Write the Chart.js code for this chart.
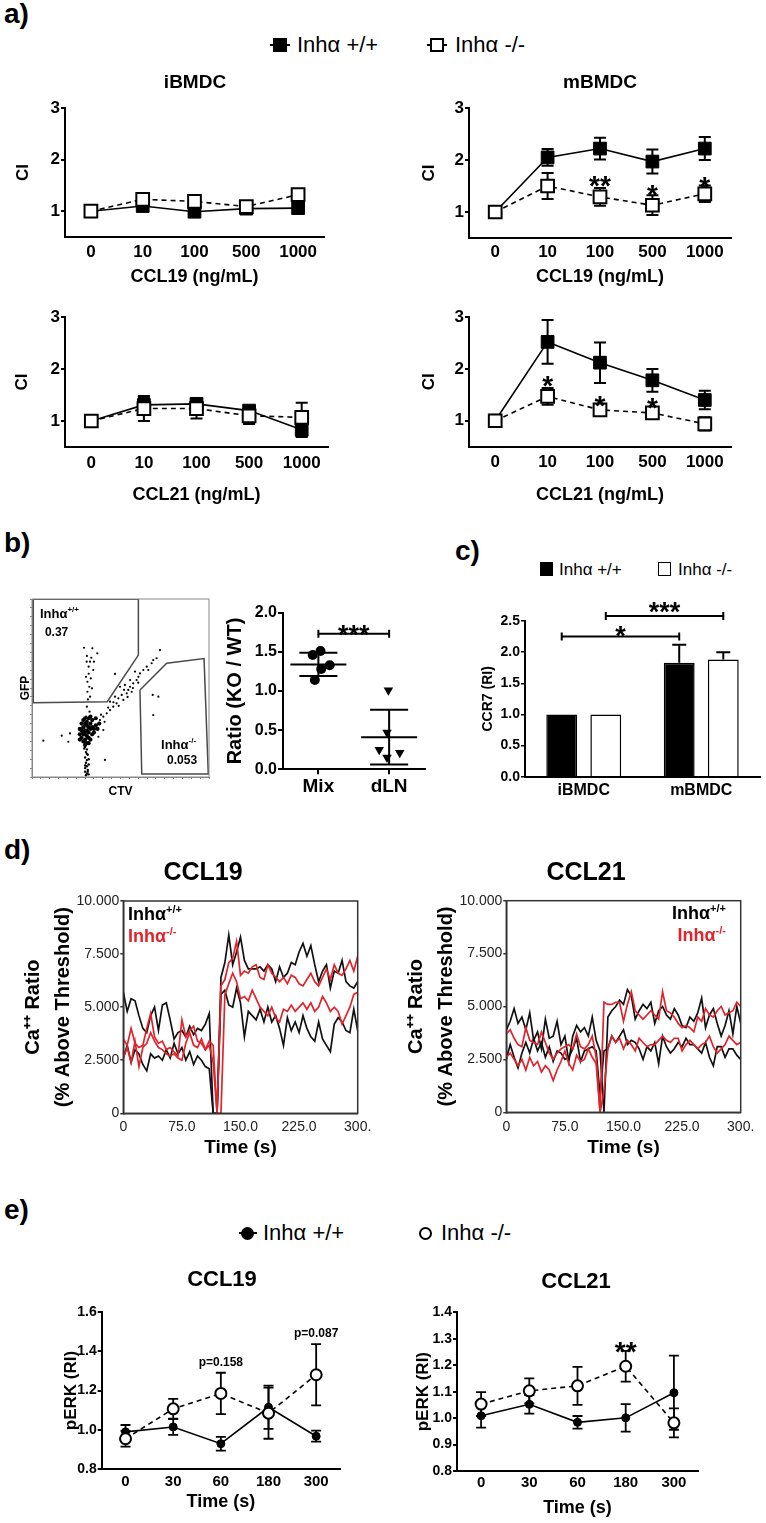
<!DOCTYPE html>
<html>
<head>
<meta charset="utf-8">
<title>Inhibin alpha figure</title>
<script src="https://cdn.jsdelivr.net/npm/chart.js@4.4.1/dist/chart.umd.min.js"></script>
<style>
  body { margin: 0; background: #fff; }
  #page { position: relative; width: 766px; height: 1523px; overflow: hidden; background: #fff;
          font-family: "Liberation Sans", Arial, sans-serif; color: #000; }
  #page canvas, #page div { position: absolute; }
  .pl { font-size: 28px; font-weight: bold; line-height: 1; }
  .lg { font-size: 22px; line-height: 1; white-space: nowrap; }
</style>
</head>
<body>
<div id="page">
  <div class="pl" style="left:4px;top:0px">a)</div>
  <div style="left:270px;top:44px;width:20px;height:2px;background:#000"></div>
  <div style="left:273px;top:38px;width:14px;height:14px;background:#000"></div>
  <div class="lg" style="left:297px;top:34px">Inhα +/+</div>
  <div style="left:427px;top:44px;width:20px;height:2px;background:#000"></div>
  <div style="left:430px;top:38px;width:14px;height:14px;background:#fff;border:2px solid #000;box-sizing:border-box"></div>
  <div class="lg" style="left:455px;top:34px">Inhα -/-</div>

  <canvas id="cA1" width="383" height="225" style="left:0px;top:70px"></canvas>
  <canvas id="cA2" width="383" height="225" style="left:383px;top:70px"></canvas>
  <canvas id="cA3" width="383" height="210" style="left:0px;top:300px"></canvas>
  <canvas id="cA4" width="383" height="210" style="left:383px;top:300px"></canvas>

  <div class="pl" style="left:4px;top:529px">b)</div>
  <canvas id="cFlow" width="215" height="215" style="left:0px;top:590px"></canvas>
  <canvas id="cDot" width="215" height="215" style="left:215px;top:590px"></canvas>

  <div class="pl" style="left:455px;top:537px">c)</div>
  <div style="left:540px;top:562px;width:13px;height:14px;background:#000"></div>
  <div class="lg" style="left:559px;top:561px;font-size:17px">Inhα +/+</div>
  <div style="left:658px;top:562px;width:13px;height:14px;border:1.5px solid #000;box-sizing:border-box;background:#fff"></div>
  <div class="lg" style="left:678px;top:561px;font-size:17px">Inhα -/-</div>
  <canvas id="cBar" width="336" height="215" style="left:430px;top:590px"></canvas>

  <div class="pl" style="left:4px;top:836px">d)</div>
  <canvas id="cD1" width="383" height="300" style="left:0px;top:860px"></canvas>
  <canvas id="cD2" width="383" height="300" style="left:383px;top:860px"></canvas>

  <div class="pl" style="left:4px;top:1196px">e)</div>
  <div style="left:239px;top:1232px;width:18px;height:2px;background:#000"></div>
  <div style="left:241px;top:1227px;width:13px;height:13px;border-radius:50%;background:#000"></div>
  <div class="lg" style="left:263px;top:1222px">Inhα +/+</div>
  <div style="left:419px;top:1227px;width:13px;height:13px;border-radius:50%;border:2.5px solid #000;box-sizing:border-box;background:#fff"></div>
  <div class="lg" style="left:441px;top:1222px">Inhα -/-</div>
  <canvas id="cE1" width="383" height="263" style="left:0px;top:1260px"></canvas>
  <canvas id="cE2" width="383" height="263" style="left:383px;top:1260px"></canvas>
</div>
<script>
// ---------- a) chemotaxis index ----------
const concLabels = ['0', '10', '100', '500', '1000'];
const ciTicks = [1, 2, 3];

const ib19Wt = [1.00, 1.10, 0.99, 1.05, 1.06];
const ib19WtErr = [0, 0.03, 0.04, 0.05, 0.05];
const ib19Ko = [1.00, 1.23, 1.19, 1.09, 1.32];
const ib19KoErr = [0, 0.04, 0.04, 0.08, 0.05];

const mb19Wt = [1.00, 2.05, 2.22, 1.97, 2.22];
const mb19WtErr = [0, 0.16, 0.21, 0.23, 0.22];
const mb19Ko = [1.00, 1.50, 1.29, 1.13, 1.35];
const mb19KoErr = [0, 0.25, 0.17, 0.19, 0.16];

const ib21Wt = [1.00, 1.31, 1.33, 1.20, 0.83];
const ib21WtErr = [0, 0.15, 0.06, 0.08, 0.14];
const ib21Ko = [1.00, 1.24, 1.24, 1.10, 1.07];
const ib21KoErr = [0, 0.24, 0.19, 0.16, 0.28];

const mb21Wt = [1.00, 2.52, 2.12, 1.78, 1.40];
const mb21WtErr = [0, 0.42, 0.39, 0.22, 0.18];
const mb21Ko = [1.00, 1.47, 1.21, 1.15, 0.94];
const mb21KoErr = [0, 0.16, 0.04, 0.06, 0.13];

const mb19Stars = [[2, 1.63, '**'], [3, 1.46, '*'], [4, 1.62, '*']];
const mb21Stars = [[1, 1.81, '*'], [2, 1.42, '*'], [3, 1.39, '*']];

// ---------- b) flow plot (CTV / GFP, plot units 0-100) ----------
const gate1 = [[0.7, 99.8], [60.1, 99.8], [60.1, 68.5], [42.5, 42.3], [0.7, 41.7], [0.7, 99.8]];
const gate2 = [[61.0, 48.9], [76.1, 63.9], [97.2, 66.5], [99.6, 1.7], [62.0, 1.7], [61.0, 48.9]];
const flowCore = [[28,22],[29,24],[30,26],[31,23],[32,25],[29,28],[31,29],[33,27],[30,21],[28,26],
  [32,22],[34,24],[30,30],[33,30],[29,20],[31,19],[27,24],[35,27],[36,29],[34,32],[32,33],[30,33],
  [28,30],[27,27],[33,21],[35,25],[31,26],[29,25],[32,28],[30,24],[34,28],[31,31],[36,33],[38,30],
  [37,27],[33,34],[29,32],[27,21],[30,18],[32,19]];
const flowStem = [[30,17],[31,15.5],[30.5,14],[31.5,12.5],[30,11],[31,9.5],[30.5,8],[32,7],[31,6],
  [30,5],[31.5,4],[30,3],[31,2],[32,1.5],[30.5,1],[29.5,16],[32,10],[31,13],[30,6.5],[31.5,3]];
const flowUpper = [[29.4,72.6],[34.1,72.3],[36.9,69.5],[30.9,64.8],[32.8,64.8],[35.0,64.8],[32.0,62.0],
  [34.6,60.1],[30.5,56.3],[33.2,55.4],[31.3,53.5],[32.4,50.7],[33.9,49.8],[31.3,47.9],[32.8,45.1],
  [31.6,43.6],[31,39.5],[32.5,36.7],[30.5,34],[32,58],[31,68],[33.5,67]];
const flowDiag = [[38.4,32.0],[40.3,33.9],[42.2,35.8],[44.1,37.6],[45.9,39.5],[47.8,41.4],[48.8,44.2],
  [50.7,46.1],[51.6,43.3],[53.5,47.0],[54.4,48.9],[55.4,50.7],[56.3,47.9],[57.2,52.6],[59.1,54.5],
  [60.1,56.3],[61.0,58.2],[62.9,60.1],[64.8,62.0],[65.7,60.1],[67.6,63.9],[68.5,65.7],[70.4,66.7],
  [72.3,71.3],[49.7,50.7],[52.5,51.7],[46.9,45.1],[44.1,42.3],[55.4,54.5],[58.2,59.2],[36.6,29.2],
  [40.3,26.4],[37.5,22.6],[39,35],[41,31],[43,39],[46,42],[49,40],[52,49],[54,45],[57,50],[60,53]];
const flowStray = [[6.4,20.4],[16.8,23.2],[21.5,24.5],[20.5,19.8],[41.2,9.6],[46.9,57.9],[68.2,46.1],
  [71.4,45.1],[68.5,34.8]];

// ---------- b) ratio dot plot ----------
const dotGroups = ['Mix', 'dLN'];
const ratioTicks = [0, 0.5, 1.0, 1.5, 2.0];
const mixRatio = [1.46, 1.51, 1.28, 1.33, 1.14];
const mixJitter = [0.42, 0.53, 0.54, 0.66, 0.45];
const dlnRatio = [1.01, 0.47, 0.21, 0.15, 0.25];
const dlnJitter = [1.49, 1.47, 1.65, 1.47, 1.36];
const mixMeanSd = [1.34, 0.15];
const dlnMeanSd = [0.41, 0.35];

// ---------- c) CCR7 ----------
const cellLabels = ['iBMDC', 'mBMDC'];
const ccr7Ticks = [0, 0.5, 1.0, 1.5, 2.0, 2.5];
const ccr7Wt = [1.00, 1.83];
const ccr7WtErr = [0, 0.29];
const ccr7Ko = [1.00, 1.88];
const ccr7KoErr = [0, 0.12];

// ---------- d) calcium flux ----------
const caTime = [0,5,10,15,20,25,30,35,40,45,50,55,60,65,70,75,80,85,90,95,100,105,110,115,120,125,130,
  135,140,145,150,155,160,165,170,175,180,185,190,195,200,205,210,215,220,225,230,235,240,245,250,255,
  260,265,270,275,280,285,290,295,300];
const caXTicks = [0, 75, 150, 225, 300];
const caXLabels = ['0', '75.0', '150.0', '225.0', '300.'];
const caYTicks = [0, 2.5, 5, 7.5, 10];
const caYLabels = ['0', '2.500', '5.000', '7.500', '10.000'];

const ca19Wt1 = [5.7,4.8,5.4,5.3,4.6,4.0,3.8,4.6,5.0,3.9, 5.1,5.2,4.4,3.5,3.8,3.9,3.6,4.1,3.7,4.0,
  3.9,4.2,4.7,0,0,6.4,7.1,8.4,7.0,7.6, 8.3,7.2,6.8,6.8,6.8,6.9,6.7,7.0,6.8,6.2,
  6.9,6.4,6.6,7.1,7.0,7.6,8.0,7.4,7.9,7.0, 6.2,6.7,7.0,5.9,6.7,6.6,7.2,6.2,6.0,5.9, 6.2];
const ca19Wt2 = [2.6,3.2,2.4,3.0,2.8,2.3,2.0,2.8,2.6,2.7, 2.5,3.0,2.6,3.3,2.8,3.1,2.5,2.9,2.3,2.7,
  2.5,2.2,2.1,0,0,5.6,5.8,5.1,5.0,5.9, 5.2,3.6,4.8,4.6,4.4,4.9,4.3,5.0,4.3,4.6,
  4.0,3.2,4.5,3.9,4.3,3.8,4.6,4.0,3.6,3.4, 4.3,3.5,3.2,2.9,4.2,4.5,4.3,3.9,3.8,4.9, 3.9];
const ca19Ko1 = [3.5,3.2,4.0,3.3,3.1,3.2,4.0,4.7,3.6,3.3, 3.4,3.0,3.1,2.9,2.7,4.4,3.6,3.9,4.1,3.4,
  3.3,3.0,3.4,3.2,0,6.0,6.3,7.1,7.3,8.1, 6.5,6.7,6.6,6.9,7.0,6.4,6.3,7.0,6.6,6.4,
  6.2,6.4,6.1,6.5,6.4,6.1,6.0,6.3,6.6,6.2, 6.0,6.4,6.8,6.3,7.0,6.6,6.5,6.8,7.2,6.7, 7.4];
const ca19Ko2 = [2.6,3.1,2.4,3.4,2.2,3.1,3.3,3.8,3.4,3.1, 3.0,2.8,2.7,2.8,2.6,2.5,3.3,3.8,3.2,3.1,
  3.5,3.0,3.2,2.4,0,0,5.6,6.1,6.6,6.2, 5.4,5.5,5.3,5.8,5.4,5.0,4.8,4.6,5.0,4.5,
  4.3,4.9,4.8,5.1,4.8,5.0,5.2,4.9,5.2,4.8, 5.0,5.5,5.2,4.8,5.0,4.8,4.2,4.6,5.0,5.6, 5.7];

const ca21Wt1 = [3.9,4.3,4.9,4.2,4.5,3.9,4.7,3.4,3.8,3.0, 4.4,3.5,3.6,4.3,3.2,3.6,2.4,3.6,4.1,3.8,
  4.0,3.6,4.5,3.4,2.9,0,4.5,4.8,5.0,5.3, 5.1,5.8,5.5,4.4,4.8,5.1,4.9,5.2,4.2,4.8,
  5.0,4.6,4.4,4.9,4.6,4.1,4.0,4.5,4.3,4.7, 5.4,4.0,4.6,4.9,4.2,3.6,4.1,4.8,3.7,5.0, 4.2];
const ca21Wt2 = [2.5,3.2,2.6,2.1,2.8,3.3,2.8,3.5,2.9,3.3, 2.6,3.1,2.4,2.9,2.8,2.5,2.6,3.0,3.5,2.4,
  2.9,3.0,3.1,2.9,0.8,2.9,3.0,3.6,3.3,3.6, 3.9,3.2,3.4,3.3,3.0,2.5,3.1,2.9,3.3,2.3,
  3.6,3.1,2.8,3.0,3.3,3.1,3.5,3.2,3.2,3.0, 2.8,3.3,2.6,2.2,3.1,3.1,2.6,3.0,3.0,2.7, 2.5];
const ca21Ko1 = [3.7,3.9,3.5,3.2,3.1,4.0,3.4,3.3,3.2,3.8, 3.3,2.8,2.5,2.8,3.0,3.1,3.2,3.0,3.7,3.1,
  3.0,3.2,3.6,2.6,0,5.2,5.1,5.1,5.2,5.2, 4.3,5.1,5.7,4.8,4.6,4.4,4.6,4.8,4.6,4.4,
  5.7,4.8,4.7,4.5,4.2,4.0,4.1,4.0,3.8,4.5, 4.3,4.9,4.6,4.5,4.8,5.0,4.6,4.7,4.8,5.2, 5.0];
const ca21Ko2 = [2.6,2.8,2.5,2.2,2.5,2.0,2.6,2.2,2.4,1.9, 2.2,2.0,1.5,2.0,2.4,2.9,2.3,2.0,2.7,2.4,
  2.5,3.0,2.6,2.3,0,1.0,3.0,3.6,3.3,3.5, 3.0,3.4,3.2,2.9,3.5,3.3,3.1,3.2,3.2,3.4,
  3.6,3.4,3.3,3.5,3.5,2.9,3.2,3.4,3.2,3.0, 3.2,3.3,3.6,3.1,2.8,3.0,3.2,3.6,3.4,3.2, 3.3];

// ---------- e) pERK ----------
const timeLabels = ['0', '30', '60', '180', '300'];
const perk19Ticks = [0.8, 1.0, 1.2, 1.4, 1.6];
const perk21Ticks = [0.8, 0.9, 1.0, 1.1, 1.2, 1.3, 1.4];
const perk19Wt = [0.99, 1.015, 0.93, 1.115, 0.968];
const perk19WtErr = [0.035, 0.04, 0.035, 0.11, 0.028];
const perk19Ko = [0.955, 1.107, 1.185, 1.085, 1.28];
const perk19KoErr = [0.04, 0.05, 0.105, 0.13, 0.155];
const perk21Wt = [1.009, 1.052, 0.984, 1.001, 1.096];
const perk21WtErr = [0.045, 0.035, 0.024, 0.052, 0.14];
const perk21Ko = [1.053, 1.103, 1.122, 1.196, 0.982];
const perk21KoErr = [0.045, 0.047, 0.072, 0.058, 0.055];

// ---------- helpers ----------
const FONT = '"Liberation Sans", Arial, sans-serif';
Chart.defaults.font.family = FONT;
Chart.defaults.color = '#000';
Chart.defaults.animation = false;
Chart.defaults.plugins.legend.display = false;
Chart.defaults.plugins.tooltip.enabled = false;

const RED = '#e0242b';
const NO_GRID = { display: false, drawTicks: false };
function fnt(size, bold) { return (bold ? 'bold ' : '') + size + 'px ' + FONT; }
function fixW(w) { return s => { s.width = w; }; }
function fixH(h) { return s => { s.height = h; }; }
function setTicks(vals) { return s => { s.ticks = vals.map(v => ({ value: v })); }; }
function xy(xs, ys) { return xs.map((x, i) => ({ x: x, y: ys[i] })); }
function pairs(list) { return list.map(p => ({ x: p[0], y: p[1] })); }

function drawRich(ctx, parts, x, y, size, color, align) {
  ctx.save();
  ctx.fillStyle = color;
  ctx.textAlign = 'left';
  ctx.textBaseline = 'alphabetic';
  const f = sup => fnt(sup ? Math.round(size * 0.62) : size, true);
  let w = 0;
  parts.forEach(p => { ctx.font = f(p[1]); w += ctx.measureText(p[0]).width; });
  let cx = align === 'right' ? x - w : (align === 'center' ? x - w / 2 : x);
  const base = y + size * 0.36;
  parts.forEach(p => {
    ctx.font = f(p[1]);
    ctx.fillText(p[0], cx, p[1] ? base - size * 0.42 : base);
    cx += ctx.measureText(p[0]).width;
  });
  ctx.restore();
}

// error bars, drawn under the markers
function drawErrors(chart) {
  const ctx = chart.ctx, ys = chart.scales.y;
  chart.data.datasets.forEach((ds, di) => {
    if (!ds.errors) return;
    const meta = chart.getDatasetMeta(di);
    const cap = ds.capW || 6;
    ctx.save();
    ctx.strokeStyle = '#000';
    ctx.lineWidth = ds.errWidth || 2;
    meta.data.forEach((el, i) => {
      const e = ds.errors[i];
      if (!e) return;
      const v = ds.data[i];
      const yt = ys.getPixelForValue(v + e);
      const yb = ds.errUp ? ys.getPixelForValue(v) : ys.getPixelForValue(v - e);
      ctx.beginPath();
      ctx.moveTo(el.x, yt); ctx.lineTo(el.x, yb);
      ctx.moveTo(el.x - cap, yt); ctx.lineTo(el.x + cap, yt);
      if (!ds.errUp) { ctx.moveTo(el.x - cap, yb); ctx.lineTo(el.x + cap, yb); }
      ctx.stroke();
    });
    ctx.restore();
  });
}

function drawItems(chart, items) {
  const ctx = chart.ctx, ca = chart.chartArea;
  const X = v => chart.scales.x.getPixelForValue(v);
  const Y = v => chart.scales.y.getPixelForValue(v);
  items.forEach(it => {
    ctx.save();
    ctx.fillStyle = ctx.strokeStyle = it.color || '#000';
    ctx.lineWidth = it.w || 2;
    if (it.k === 'frame') {
      ctx.strokeRect(ca.left, ca.top, ca.right - ca.left, ca.bottom - ca.top);
    } else if (it.k === 'text') {
      ctx.font = fnt(it.size, it.bold !== false);
      ctx.textAlign = it.align || 'center';
      ctx.textBaseline = 'middle';
      ctx.fillText(it.s, it.data ? X(it.x) : it.x, it.data ? Y(it.y) : it.y);
    } else if (it.k === 'star') {
      ctx.font = fnt(it.size, true);
      ctx.textAlign = 'center';
      ctx.textBaseline = 'alphabetic';
      ctx.fillText(it.s, X(it.x), Y(it.y) + it.size * 0.58);
    } else if (it.k === 'rich') {
      drawRich(ctx, it.parts, it.data ? X(it.x) : it.x, it.data ? Y(it.y) : it.y,
               it.size, it.color || '#000', it.align);
    } else if (it.k === 'br') {
      const x1 = X(it.x1), x2 = X(it.x2), y = Y(it.y), c = it.cap || 4;
      ctx.beginPath();
      ctx.moveTo(x1, y); ctx.lineTo(x2, y);
      ctx.moveTo(x1, y - c); ctx.lineTo(x1, y + c);
      ctx.moveTo(x2, y - c); ctx.lineTo(x2, y + c);
      ctx.stroke();
    } else if (it.k === 'brbar') {
      const x1 = chart.getDatasetMeta(it.a[0]).data[it.a[1]].x;
      const x2 = chart.getDatasetMeta(it.b[0]).data[it.b[1]].x;
      const y = Y(it.y), c = 4;
      ctx.beginPath();
      ctx.moveTo(x1, y); ctx.lineTo(x2, y);
      ctx.moveTo(x1, y - c); ctx.lineTo(x1, y + c);
      ctx.moveTo(x2, y - c); ctx.lineTo(x2, y + c);
      ctx.stroke();
      ctx.font = fnt(it.size, true);
      ctx.textAlign = 'center';
      ctx.textBaseline = 'alphabetic';
      ctx.fillText(it.s, (x1 + x2) / 2, Y(it.sy) + it.size * 0.58);
    } else if (it.k === 'msd') {
      const x = X(it.x), m = Y(it.ms[0]), t = Y(it.ms[0] + it.ms[1]), b = Y(it.ms[0] - it.ms[1]);
      ctx.beginPath();
      ctx.moveTo(x - it.hw, m); ctx.lineTo(x + it.hw, m);
      ctx.moveTo(x, t); ctx.lineTo(x, b);
      ctx.moveTo(x - it.cw, t); ctx.lineTo(x + it.cw, t);
      ctx.moveTo(x - it.cw, b); ctx.lineTo(x + it.cw, b);
      ctx.stroke();
    }
    ctx.restore();
  });
}

function notes(items) {
  return { id: 'notes', beforeDatasetsDraw: drawErrors, afterDraw: c => drawItems(c, items) };
}

// ---------- a) ----------
function ciChart(id, g, wt, wtErr, ko, koErr, xTitle, title, stars) {
  const items = [];
  if (title) items.push({ k: 'text', x: g.tx, y: 12.5, s: title, size: 19 });
  (stars || []).forEach(s => items.push({ k: 'star', x: s[0], y: s[1], s: s[2], size: 28 }));
  return new Chart(document.getElementById(id), {
    type: 'line',
    data: {
      labels: concLabels,
      datasets: [
        { data: ko, errors: koErr, order: 0, borderColor: '#000', borderWidth: 1.6, borderDash: [5, 4],
          pointStyle: 'rect', pointRadius: 9, pointBackgroundColor: '#fff', pointBorderColor: '#000',
          pointBorderWidth: 2, tension: 0 },
        { data: wt, errors: wtErr, order: 1, borderColor: '#000', borderWidth: 1.6,
          pointStyle: 'rect', pointRadius: 9, pointBackgroundColor: '#000', pointBorderColor: '#000',
          pointBorderWidth: 1, tension: 0 }
      ]
    },
    options: {
      responsive: false,
      layout: { padding: { left: 0, top: g.top, right: g.right, bottom: 0 } },
      scales: {
        x: { offset: true, grid: NO_GRID, border: { color: '#000', width: 2 },
             ticks: { font: { size: 17, weight: 'bold' }, padding: g.tp, color: '#000' },
             title: { display: true, text: xTitle, font: { size: 18, weight: 'bold' },
                      padding: { top: 0, bottom: g.xtp } },
             afterFit: fixH(g.xh) },
        y: { min: 0.5, max: 3, afterBuildTicks: setTicks(ciTicks),
             grid: { drawOnChartArea: false, tickLength: 4, color: '#000', lineWidth: 2 },
             border: { color: '#000', width: 2 },
             ticks: { font: { size: 17, weight: 'bold' }, padding: 1, color: '#000' },
             title: { display: true, text: 'CI', font: { size: 17, weight: 'bold' },
                      padding: { top: g.ytp, bottom: 0 } },
             afterFit: fixW(g.yw) }
      }
    },
    plugins: [notes(items)]
  });
}

ciChart('cA1', { top: 38, right: 59, yw: 65, ytp: 12.8, xh: 58, xtp: 7.2, tp: 4.8, tx: 195 },
        ib19Wt, ib19WtErr, ib19Ko, ib19KoErr, 'CCL19 (ng/mL)', 'iBMDC');
ciChart('cA2', { top: 38, right: 35, yw: 86, ytp: 36.5, xh: 57, xtp: 7.2, tp: 3.8, tx: 217 },
        mb19Wt, mb19WtErr, mb19Ko, mb19KoErr, 'CCL19 (ng/mL)', 'mBMDC', mb19Stars);
ciChart('cA3', { top: 17, right: 55, yw: 65, ytp: 12.3, xh: 63, xtp: 4.2, tp: 5.8 },
        ib21Wt, ib21WtErr, ib21Ko, ib21KoErr, 'CCL21 (ng/mL)');
ciChart('cA4', { top: 17, right: 35, yw: 86, ytp: 35.8, xh: 63.3, xtp: 4.2, tp: 5.8 },
        mb21Wt, mb21WtErr, mb21Ko, mb21KoErr, 'CCL21 (ng/mL)', null, mb21Stars);

// ---------- b) flow plot ----------
const gateStyle = { showLine: true, borderColor: '#4a4a4a', borderWidth: 1.5, pointRadius: 0, tension: 0 };
new Chart(document.getElementById('cFlow'), {
  type: 'scatter',
  data: {
    datasets: [
      Object.assign({ data: pairs(gate1) }, gateStyle),
      Object.assign({ data: pairs(gate2) }, gateStyle),
      { data: pairs(flowCore), pointRadius: 2.1, backgroundColor: '#000', borderWidth: 0 },
      { data: pairs(flowStem), pointRadius: 1.2, backgroundColor: '#000', borderWidth: 0 },
      { data: pairs(flowUpper), pointRadius: 1.1, backgroundColor: '#000', borderWidth: 0 },
      { data: pairs(flowDiag), pointRadius: 1.1, backgroundColor: '#000', borderWidth: 0 },
      { data: pairs(flowStray), pointRadius: 1.1, backgroundColor: '#000', borderWidth: 0 }
    ]
  },
  options: {
    responsive: false,
    layout: { padding: { left: 0, top: 9, right: 6, bottom: 0 } },
    scales: {
      x: { type: 'linear', min: 0, max: 100, ticks: { display: false, stepSize: 5 },
           grid: { drawOnChartArea: false, tickLength: 2, color: '#888' },
           border: { color: '#888', width: 1 },
           title: { display: true, text: 'CTV', font: { size: 12, weight: 'bold' }, padding: { top: 0, bottom: 6 } },
           afterFit: fixH(28) },
      y: { type: 'linear', min: 0, max: 100, ticks: { display: false, stepSize: 5 },
           grid: { drawOnChartArea: false, tickLength: 2, color: '#888' },
           border: { color: '#888', width: 1 },
           title: { display: true, text: 'GFP', font: { size: 12, weight: 'bold' }, padding: { top: 18, bottom: 0 } },
           afterFit: fixW(32) }
    }
  },
  plugins: [notes([
    { k: 'frame', color: '#888', w: 1 },
    { k: 'rich', data: true, x: 4.5, y: 92, parts: [['Inhα', 0], ['+/+', 1]], size: 13 },
    { k: 'text', data: true, x: 7.3, y: 81, s: '0.37', size: 12, align: 'left' },
    { k: 'rich', data: true, x: 72.9, y: 18.5, parts: [['Inhα', 0], ['-/-', 1]], size: 13 },
    { k: 'text', data: true, x: 76.3, y: 9, s: '0.053', size: 12, align: 'left' }
  ])]
});

// ---------- b) ratio dot plot ----------
new Chart(document.getElementById('cDot'), {
  type: 'scatter',
  data: {
    datasets: [
      { data: xy(mixJitter, mixRatio), pointStyle: 'circle', pointRadius: 5, backgroundColor: '#000', borderWidth: 0 },
      { data: xy(dlnJitter, dlnRatio), pointStyle: 'triangle', pointRotation: 180, pointRadius: 5.5,
        backgroundColor: '#000', borderWidth: 0 }
    ]
  },
  options: {
    responsive: false,
    layout: { padding: { left: 0, top: 22.7, right: 4, bottom: 0 } },
    scales: {
      x: { type: 'linear', min: 0, max: 2, afterBuildTicks: setTicks([0.5, 1.5]),
           grid: { drawOnChartArea: false, tickLength: 5, color: '#000', lineWidth: 2 },
           border: { color: '#000', width: 2 },
           ticks: { font: { size: 19, weight: 'bold' }, padding: 1, callback: (v, i) => dotGroups[i] },
           afterFit: fixH(35.7) },
      y: { min: 0, max: 2, afterBuildTicks: setTicks(ratioTicks),
           grid: { drawOnChartArea: false, tickLength: 5, color: '#000', lineWidth: 2 },
           border: { color: '#000', width: 2 },
           ticks: { font: { size: 16, weight: 'bold' }, padding: 1, callback: v => v.toFixed(1) },
           title: { display: true, text: 'Ratio (KO / WT)', font: { size: 20, weight: 'bold' },
                    padding: { top: 8, bottom: 0 } },
           afterFit: fixW(68) }
    }
  },
  plugins: [notes([
    { k: 'msd', x: 0.5, ms: mixMeanSd, hw: 28, cw: 19 },
    { k: 'msd', x: 1.5, ms: dlnMeanSd, hw: 28, cw: 19 },
    { k: 'br', x1: 0.5, x2: 1.5, y: 1.73, cap: 4 },
    { k: 'star', x: 1.0, y: 1.80, s: '***', size: 27 }
  ])]
});

// ---------- c) CCR7 bars ----------
new Chart(document.getElementById('cBar'), {
  type: 'bar',
  data: {
    labels: cellLabels,
    datasets: [
      { data: ccr7Wt, errors: ccr7WtErr, errUp: true, capW: 7, backgroundColor: '#000', borderColor: '#000',
        borderWidth: 1.5, categoryPercentage: 0.75, barPercentage: 0.7 },
      { data: ccr7Ko, errors: ccr7KoErr, errUp: true, capW: 7, backgroundColor: '#fff', borderColor: '#000',
        borderWidth: 1.5, categoryPercentage: 0.75, barPercentage: 0.7 }
    ]
  },
  options: {
    responsive: false,
    layout: { padding: { left: 0, top: 31, right: 6, bottom: 0 } },
    scales: {
      x: { grid: NO_GRID, border: { color: '#000', width: 2 },
           ticks: { font: { size: 16, weight: 'bold' }, padding: 4 },
           afterFit: fixH(28.3) },
      y: { min: 0, max: 2.5, afterBuildTicks: setTicks(ccr7Ticks),
           grid: { drawOnChartArea: false, tickLength: 4, color: '#000', lineWidth: 1.5 },
           border: { color: '#000', width: 2 },
           ticks: { font: { size: 14, weight: 'bold' }, padding: 1, callback: v => v.toFixed(1) },
           title: { display: true, text: 'CCR7 (RI)', font: { size: 14, weight: 'bold' },
                    padding: { top: 49.6, bottom: 0 } },
           afterFit: fixW(95) }
    }
  },
  plugins: [notes([
    { k: 'brbar', a: [0, 0], b: [0, 1], y: 2.25, s: '*', sy: 2.36, size: 27 },
    { k: 'brbar', a: [1, 0], b: [1, 1], y: 2.58, s: '***', sy: 2.75, size: 27 }
  ])]
});

// ---------- d) calcium ----------
function caChart(id, g, title, wt1, wt2, ko1, ko2) {
  const line = (d, c, o) => ({ data: xy(caTime, d), showLine: true, borderColor: c, borderWidth: 1.7,
                               pointRadius: 0, tension: 0, order: o });
  const legX = g.legRight ? 343 : 128;
  const al = g.legRight ? 'right' : 'left';
  return new Chart(document.getElementById(id), {
    type: 'scatter',
    data: { datasets: [line(ko1, RED, 0), line(ko2, RED, 0), line(wt1, '#111', 1), line(wt2, '#111', 1)] },
    options: {
      responsive: false,
      layout: { padding: { left: 0, top: g.top, right: 25.3, bottom: 0 } },
      scales: {
        x: { type: 'linear', min: 0, max: 300, afterBuildTicks: setTicks(caXTicks),
             grid: NO_GRID, border: { color: '#333', width: 1.5 },
             ticks: { font: { size: 14 }, color: '#222', padding: g.tp, callback: (v, i) => caXLabels[i] },
             title: { display: true, text: 'Time (s)', font: { size: 19, weight: 'bold' },
                      padding: { top: 0, bottom: 1 } },
             afterFit: fixH(g.xh) },
        y: { min: 0, max: 10, afterBuildTicks: setTicks(caYTicks),
             grid: { drawOnChartArea: false, tickLength: 3, color: '#333', lineWidth: 1.5 },
             border: { color: '#333', width: 1.5 },
             ticks: { font: { size: 14 }, color: '#222', padding: 1, callback: (v, i) => caYLabels[i] },
             title: { display: true, text: ['Ca⁺⁺ Ratio', '(% Above Threshold)'],
                      font: { size: 20, weight: 'bold', lineHeight: 1.5 }, padding: { top: 18, bottom: 0 } },
             afterFit: fixW(123.3) }
      }
    },
    plugins: [notes([
      { k: 'frame', color: '#333', w: 1.5 },
      { k: 'text', x: 203, y: 13, s: title, size: 25 },
      { k: 'rich', x: legX, y: g.l1, parts: [['Inhα', 0], ['+/+', 1]], size: 18, align: al },
      { k: 'rich', x: legX, y: g.l2, parts: [['Inhα', 0], ['-/-', 1]], size: 18, align: al, color: RED }
    ])]
  });
}

caChart('cD1', { top: 41, xh: 46.7, tp: 5, l1: 54, l2: 76 }, 'CCL19', ca19Wt1, ca19Wt2, ca19Ko1, ca19Ko2);
caChart('cD2', { top: 40.7, xh: 47.7, tp: 6, l1: 53, l2: 75, legRight: true }, 'CCL21',
        ca21Wt1, ca21Wt2, ca21Ko1, ca21Ko2);

// ---------- e) pERK ----------
function perkChart(id, g, wt, wtErr, ko, koErr, ticks, title, items) {
  return new Chart(document.getElementById(id), {
    type: 'line',
    data: {
      labels: timeLabels,
      datasets: [
        { data: ko, errors: koErr, capW: 5, errWidth: 1.8, order: 0, borderColor: '#000', borderWidth: 1.6,
          borderDash: [5, 4], pointStyle: 'circle', pointRadius: 5.5, pointBackgroundColor: '#fff',
          pointBorderColor: '#000', pointBorderWidth: 2, tension: 0 },
        { data: wt, errors: wtErr, capW: 5, errWidth: 1.8, order: 1, borderColor: '#000', borderWidth: 1.6,
          pointStyle: 'circle', pointRadius: 4, pointBackgroundColor: '#000', pointBorderColor: '#000',
          pointBorderWidth: 1, tension: 0 }
      ]
    },
    options: {
      responsive: false,
      layout: { padding: { left: 0, top: g.top, right: g.right, bottom: 0 } },
      scales: {
        x: { offset: true, grid: NO_GRID, border: { color: '#000', width: 2 },
             ticks: { font: { size: 15, weight: 'bold' }, padding: g.tp },
             title: { display: true, text: 'Time (s)', font: { size: 18, weight: 'bold' },
                      padding: { top: 0, bottom: g.xtp } },
             afterFit: fixH(g.xh) },
        y: { min: ticks[0], max: ticks[ticks.length - 1], afterBuildTicks: setTicks(ticks),
             grid: { drawOnChartArea: false, tickLength: 4, color: '#000', lineWidth: 2 },
             border: { color: '#000', width: 2 },
             ticks: { font: { size: 14, weight: 'bold' }, padding: 1, callback: v => v.toFixed(1) },
             title: { display: true, text: 'pERK (RI)', font: { size: 17, weight: 'bold' },
                      padding: { top: g.ytp, bottom: 0 } },
             afterFit: fixW(g.yw) }
      }
    },
    plugins: [notes([{ k: 'text', x: g.tx, y: g.ty, s: title, size: 22 }].concat(items))]
  });
}

perkChart('cE1', { top: 51.7, right: 43, yw: 101.7, ytp: 61.5, xh: 53.7, xtp: 10.5, tp: 3.4, tx: 222, ty: 20 },
          perk19Wt, perk19WtErr, perk19Ko, perk19KoErr, perk19Ticks, 'CCL19', [
            { k: 'text', data: true, x: 2, y: 1.34, s: 'p=0.158', size: 12 },
            { k: 'text', data: true, x: 4, y: 1.487, s: 'p=0.087', size: 12 }
          ]);
perkChart('cE2', { top: 52.3, right: 68, yw: 74, ytp: 29.8, xh: 52, xtp: 4.2, tp: 3, tx: 193, ty: 21.7 },
          perk21Wt, perk21WtErr, perk21Ko, perk21KoErr, perk21Ticks, 'CCL21', [
            { k: 'star', x: 3, y: 1.276, s: '**', size: 28 }
          ]);
</script>
</body>
</html>
